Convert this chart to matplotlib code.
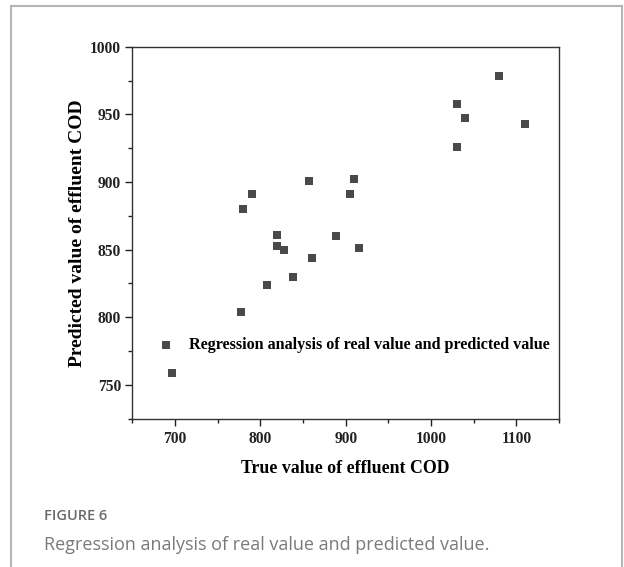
import matplotlib
matplotlib.use("Agg")
import matplotlib.pyplot as plt
from matplotlib.ticker import MultipleLocator
from matplotlib.lines import Line2D

# True vs predicted effluent COD
true_cod = [697, 777, 780, 790, 808, 819, 820, 828, 838, 857,
            861, 889, 905, 910, 915, 1030, 1030, 1040, 1080, 1110]
pred_cod = [759, 804, 880, 891, 824, 861, 853, 850, 830, 901,
            844, 860, 891, 902, 851, 958, 926, 947, 978, 943]

series_label = "Regression analysis of real value and predicted value"
x_label = "True value of effluent COD"
y_label = "Predicted value of effluent COD"
fig_tag = "FIGURE 6"
caption = "Regression analysis of real value and predicted value."

fig = plt.figure(figsize=(6.24, 5.67), dpi=100)
ax = fig.add_axes([0.212, 0.2616, 0.684, 0.656])

serif = "Liberation Serif"
ax.scatter(true_cod, pred_cod, marker="s", s=34, color="#4a4a4a",
           linewidths=0, label=series_label, zorder=3)

ax.set_xlim(650, 1150)
ax.set_ylim(725, 1000)
ax.xaxis.set_major_locator(MultipleLocator(100))
ax.xaxis.set_minor_locator(MultipleLocator(50))
ax.yaxis.set_major_locator(MultipleLocator(50))
ax.yaxis.set_minor_locator(MultipleLocator(25))
ax.tick_params(which="major", direction="out", length=5, width=1, colors="#222222",
               labelsize=11.2, pad=4)
ax.tick_params(axis="y", which="major", pad=3)
ax.tick_params(which="minor", direction="out", length=3, width=1, colors="#222222")
for lab in ax.get_xticklabels() + ax.get_yticklabels():
    lab.set_fontfamily(serif)
    lab.set_fontweight("bold")
for sp in ax.spines.values():
    sp.set_linewidth(1)
    sp.set_color("#333333")

ax.set_xlabel(x_label, fontfamily=serif, fontweight="bold", fontsize=12.8, labelpad=9)
ax.set_ylabel(y_label, fontfamily=serif, fontweight="bold", fontsize=14, labelpad=3)

leg = ax.legend(loc="center left", bbox_to_anchor=(0.045, 0.197), frameon=False,
                handletextpad=0.9, borderaxespad=0, handlelength=1.0,
                prop={"family": serif, "weight": "bold", "size": 11.6})

# caption and outer frame
fig.text(44 / 624, 1 - 515.6 / 567, fig_tag, fontfamily="Open Sans", fontweight="semibold",
         fontsize=10.5, color="#6b6b6b", va="center", ha="left")
fig.text(44 / 624, 1 - 545.5 / 567, caption, fontfamily="Open Sans",
         fontsize=13, color="#7a7a7a", va="center", ha="left")
frame_kw = dict(color="#b5b5b5", linewidth=1.5, transform=fig.transFigure)
fig.add_artist(Line2D([11 / 624, 11 / 624], [0, 1 - 6 / 567], **frame_kw))
fig.add_artist(Line2D([622 / 624, 622 / 624], [0, 1 - 6 / 567], **frame_kw))
fig.add_artist(Line2D([11 / 624, 622 / 624], [1 - 6 / 567, 1 - 6 / 567], **frame_kw))

fig.savefig("out.png", dpi=100)
